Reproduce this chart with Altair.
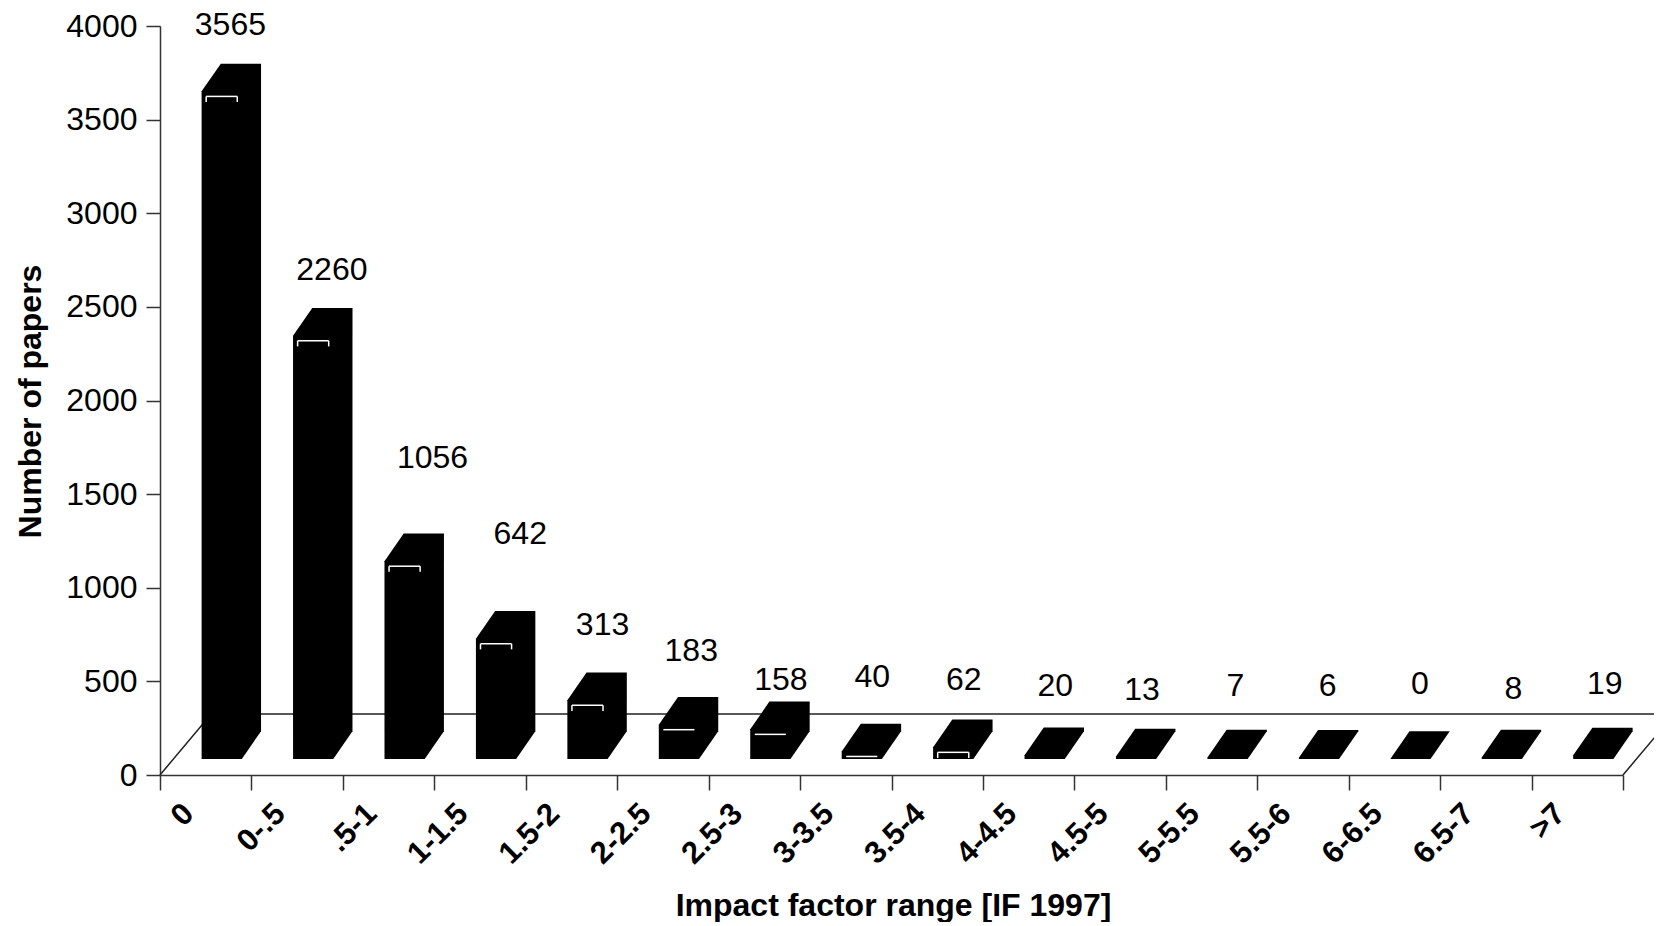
import altair as alt
import pandas as pd

categories = ["0", "0-.5", ".5-1", "1-1.5", "1.5-2", "2-2.5", "2.5-3", "3-3.5",
              "3.5-4", "4-4.5", "4.5-5", "5-5.5", "5.5-6", "6-6.5", "6.5-7", ">7"]
papers = [3565, 2260, 1056, 642, 313, 183, 158, 40, 62, 20, 13, 7, 6, 0, 8, 19]
# positions of the printed number labels (axis units)
label_x = [0.77, 1.88, 2.98, 3.94, 4.84, 5.81, 6.79, 7.79, 8.79, 9.79, 10.74,
           11.76, 12.77, 13.78, 14.80, 15.80]
label_y = [4003, 2697, 1693, 1287, 801, 662, 507, 523, 507, 475, 454, 475, 475,
           486, 459, 486]

# pseudo-3D geometry, in axis units
BAR_LEFT, BAR_W, DEPTH_X = 0.455, 0.44, 0.21
BASE, DEPTH_Y = 86, 148
FLOOR_X, FLOOR_Y = 0.56, 326

rows, hi, sides = [], [], []
for i, v in enumerate(papers):
    L = i + BAR_LEFT
    top = BASE + v
    for x, y1, y2 in [(L, top, BASE),
                      (L + DEPTH_X, top + DEPTH_Y, BASE),
                      (L + BAR_W, top + DEPTH_Y, BASE),
                      (L + BAR_W + DEPTH_X, top + DEPTH_Y, BASE + DEPTH_Y)]:
        rows.append({"bar": i, "x": x, "y1": y1, "y2": y2})
    if v >= 40:
        hi.append({"x": L + 0.05, "x2": L + 0.39, "y": top - 27})
    if v >= 300 or v == 62:
        for sx in (L + 0.05, L + 0.39):
            sides.append({"x": sx, "y": top - 27, "y2": top - 57})
bars_df = pd.DataFrame(rows)
hi_df = pd.DataFrame(hi)
sides_df = pd.DataFrame(sides)
labels_df = pd.DataFrame({"x": label_x, "y": label_y, "t": [str(p) for p in papers]})
floor_df = pd.DataFrame({"x": [0, FLOOR_X, 16 + FLOOR_X, 16], "y": [0, FLOOR_Y, FLOOR_Y, 0],
                         "o": [0, 1, 2, 3]})

FONT = "Liberation Sans"
expr = "[" + ",".join(repr(c) for c in categories) + ",''][datum.value]"
x_scale = alt.Scale(domain=[0, 16], nice=False, zero=False)
y_scale = alt.Scale(domain=[0, 4000], nice=False)
x_axis = alt.Axis(values=list(range(17)), labelExpr=expr, labelAngle=-45, labelAlign="right",
                  labelBaseline="top", labelOffset=18, labelPadding=8, labelFontSize=31,
                  labelFont=FONT, labelColor="black", labelFontWeight="bold", tickSize=15,
                  tickWidth=1.5, tickColor="#333", domainColor="#333", domainWidth=1.5,
                  grid=False, title="Impact factor range [IF 1997]", titleFont=FONT,
                  titleFontSize=32, titleFontWeight="bold", titleColor="black",
                  titleBaseline="middle", titleY=130, titleX=733, labelOverlap=False,
                  labelBound=False, labelFlush=False)
y_axis = alt.Axis(values=list(range(0, 4001, 500)), format="d", tickSize=14, tickWidth=1.5,
                  tickColor="#333", domainColor="#333", domainWidth=1.5, labelFontSize=32,
                  labelFont=FONT, labelColor="black", labelPadding=9, grid=False,
                  title="Number of papers", titleFont=FONT, titleFontSize=32,
                  titleFontWeight="bold", titleColor="black", titleX=-113, titleY=375,
                  labelOverlap=False)

axes = alt.Chart(floor_df).mark_line(opacity=0).encode(
    x=alt.X("x:Q", scale=x_scale, axis=x_axis), y=alt.Y("y:Q", scale=y_scale, axis=y_axis))
floor = alt.Chart(floor_df).mark_line(color="#222", strokeWidth=1.5, clip=False).encode(
    x=alt.X("x:Q", scale=x_scale), y=alt.Y("y:Q", scale=y_scale), order="o:Q")
bars = alt.Chart(bars_df).mark_area(color="black", clip=False, interpolate="linear").encode(
    x=alt.X("x:Q", scale=x_scale), y=alt.Y("y1:Q", scale=y_scale), y2="y2:Q", detail="bar:N")
highlights = alt.Chart(hi_df).mark_rule(color="white", strokeWidth=1.5).encode(
    x=alt.X("x:Q", scale=x_scale), x2="x2:Q", y=alt.Y("y:Q", scale=y_scale))
side_marks = alt.Chart(sides_df).mark_rule(color="white", strokeWidth=1.5).encode(
    x=alt.X("x:Q", scale=x_scale), y=alt.Y("y:Q", scale=y_scale), y2="y2:Q")
texts = alt.Chart(labels_df).mark_text(font=FONT, fontSize=32, color="black", clip=False).encode(
    x=alt.X("x:Q", scale=x_scale), y=alt.Y("y:Q", scale=y_scale), text="t:N")

chart = alt.layer(axes, floor, bars, highlights, side_marks, texts).properties(
    width=1463, height=749,
    padding={"left": 152, "top": 18, "right": 31, "bottom": 147},
    autosize=alt.AutoSizeParams(type="none"),
).configure_view(stroke=None)

chart.save("out.html", embed_options={"renderer": "svg", "actions": False})
